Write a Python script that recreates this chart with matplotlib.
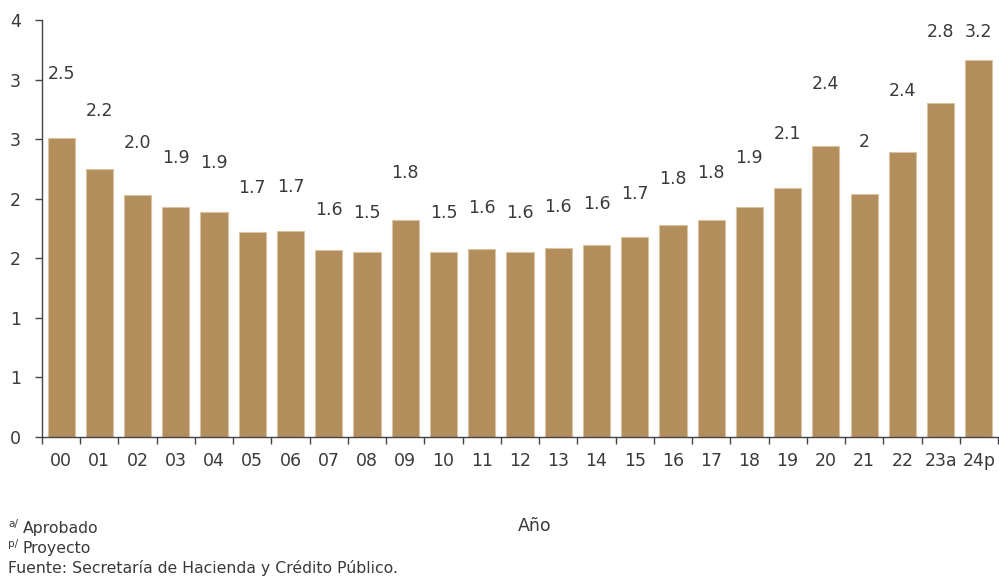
import numpy as np
import matplotlib.pyplot as plt

plt.rcParams['font.family'] = ['DejaVu Sans']

years = ['00', '01', '02', '03', '04', '05', '06', '07', '08', '09', '10', '11',
         '12', '13', '14', '15', '16', '17', '18', '19', '20', '21', '22', '23a', '24p']
values = [2.51, 2.25, 2.03, 1.93, 1.89, 1.72, 1.73, 1.57, 1.55, 1.82, 1.55, 1.58,
          1.55, 1.59, 1.61, 1.68, 1.78, 1.82, 1.93, 2.09, 2.44, 2.04, 2.39, 2.80, 3.16]
labels = ['2.5', '2.2', '2.0', '1.9', '1.9', '1.7', '1.7', '1.6', '1.5', '1.8', '1.5', '1.6',
          '1.6', '1.6', '1.6', '1.7', '1.8', '1.8', '1.9', '2.1', '2.4', '2', '2.4', '2.8', '3.2']
yticks = [0, 0.5, 1, 1.5, 2, 2.5, 3, 3.5]
ytick_labels = ['0', '1', '1', '2', '2', '3', '3', '4']

bar_color = '#B28E5C'
text_color = '#3a3a3a'

fig = plt.figure(figsize=(9.99, 5.78), dpi=100)
ax = fig.add_axes([0.042, 0.244, 0.957, 0.7215])

x = np.arange(len(years))
ax.bar(x, values, width=0.71, color=bar_color, edgecolor='#D9C3A0', linewidth=0.8)

# etiquetas de valor sobre las barras
for xi, v, lab in zip(x, values, labels):
    ax.text(xi, min(v * 1.215, 3.40), lab, ha='center', va='center',
            fontsize=12.5, color=text_color)

ax.set_xlim(-0.5, len(years) - 0.5)
ax.set_ylim(0, 3.5)

ax.set_xticks(x)
ax.set_xticklabels(years, fontsize=12.5, color=text_color)
ax.set_xticks(np.arange(-0.5, len(years)), minor=True)
ax.tick_params(axis='x', which='major', length=0, pad=11)
ax.tick_params(axis='x', which='minor', length=5, width=1, color='#444444')

ax.set_yticks(yticks)
ax.set_yticklabels(ytick_labels, fontsize=12.5, color=text_color)
ax.tick_params(axis='y', length=5, width=1, color='#444444', pad=10)

for s in ['top', 'right']:
    ax.spines[s].set_visible(False)
for s in ['left', 'bottom']:
    ax.spines[s].set_color('#444444')
    ax.spines[s].set_linewidth(1)

fig.text(535 / 999, 1 - 526 / 578, 'Año', ha='center', va='center',
         fontsize=12.5, color=text_color)

# notas al pie
fig.text(8 / 999, 1 - 524 / 578, 'a/', ha='left', va='center', fontsize=7.5, color=text_color)
fig.text(23 / 999, 1 - 529 / 578, 'Aprobado', ha='left', va='center', fontsize=11.3, color=text_color)
fig.text(8 / 999, 1 - 544 / 578, 'p/', ha='left', va='center', fontsize=7.5, color=text_color)
fig.text(23 / 999, 1 - 549 / 578, 'Proyecto', ha='left', va='center', fontsize=11.3, color=text_color)
fig.text(8 / 999, 1 - 568 / 578, 'Fuente: Secretaría de Hacienda y Crédito Público.',
         ha='left', va='center', fontsize=11.3, color=text_color)

fig.savefig('out.png', dpi=100)
